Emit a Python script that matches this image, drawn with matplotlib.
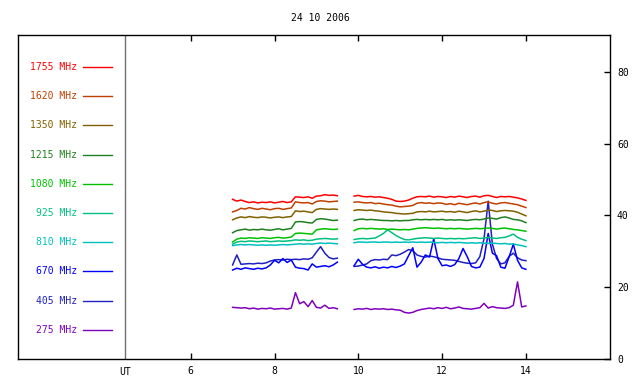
import numpy as np
import matplotlib
matplotlib.use('Agg')
import matplotlib.pyplot as plt
from matplotlib.lines import Line2D

TITLE = '24 10 2006'

# sampling times (UT hours), two observing segments
t_left = np.round(np.arange(7.0, 9.55, 0.1), 2)
t_right = np.round(np.arange(9.9, 14.05, 0.1), 2)

freqs = ['1755', '1620', '1350', '1215', '1080', '925', '810', '670', '405', '275']
colors = ['#ff0000', '#c04000', '#806000', '#208020', '#00c000',
		'#00c080', '#00c0c0', '#0000ff', '#2020c0', '#8000c0']

f1755_l = [44.5, 44.0, 44.3, 43.9, 43.6, 43.8, 43.5, 43.7, 43.6, 43.8, 43.5, 43.7, 43.9,
		43.6, 43.8, 45.2, 45.1, 45.0, 45.2, 44.8, 45.4, 45.5, 45.8, 45.6, 45.7, 45.5]
f1755_r = [45.4, 45.6, 45.3, 45.2, 45.3, 45.1, 45.2, 45.0, 44.8, 44.5, 44.0, 43.9, 44.0, 44.3,
		44.8, 45.2, 45.3, 45.2, 45.4, 45.1, 45.3, 45.2, 45.0, 45.3, 45.1, 45.4, 45.2, 45.0,
		45.3, 45.4, 45.1, 45.5, 45.6, 45.3, 45.0, 45.3, 45.2, 45.3, 45.1, 44.9, 44.6, 44.2]

f1620_l = [41.0, 41.4, 42.0, 41.8, 42.2, 41.9, 41.7, 42.0, 41.8, 41.6, 41.9, 42.0, 41.7,
		41.9, 42.1, 43.8, 43.6, 43.5, 43.6, 43.2, 43.9, 44.1, 44.0, 43.8, 43.9, 44.0]
f1620_r = [43.7, 43.8, 43.6, 43.5, 43.6, 43.3, 43.4, 43.2, 43.0, 42.9, 42.6, 42.4, 42.5, 42.6,
		42.8, 43.4, 43.6, 43.4, 43.5, 43.3, 43.5, 43.4, 43.1, 43.3, 43.0, 43.4, 43.2, 43.0,
		43.3, 43.5, 43.2, 43.6, 43.8, 43.4, 43.2, 43.5, 43.6, 43.4, 43.2, 43.0, 42.6, 42.2]

f1350_l = [38.8, 39.3, 39.6, 39.4, 39.7, 39.5, 39.4, 39.6, 39.5, 39.3, 39.5, 39.6, 39.4,
		39.6, 39.7, 41.3, 41.1, 41.2, 41.0, 40.8, 41.7, 41.9, 41.8, 41.7, 41.8, 41.7]
f1350_r = [41.4, 41.6, 41.5, 41.4, 41.5, 41.3, 41.2, 41.0, 40.9, 40.8, 40.6, 40.5, 40.4, 40.5,
		40.6, 41.0, 41.1, 41.0, 41.2, 41.0, 41.1, 41.2, 41.0, 41.1, 40.9, 41.2, 41.0, 40.8,
		41.1, 41.3, 41.0, 41.2, 41.5, 41.4, 41.1, 41.3, 41.4, 41.3, 41.2, 40.9, 40.4, 39.9]

f1215_l = [35.2, 35.8, 36.0, 36.2, 35.9, 36.1, 36.0, 36.2, 36.0, 35.9, 36.1, 36.3, 36.0,
		36.2, 36.4, 38.2, 38.3, 38.2, 38.0, 37.9, 38.9, 39.1, 39.0, 38.8, 38.6, 38.7]
f1215_r = [38.6, 38.9, 39.0, 38.8, 38.9, 38.8, 38.7, 38.6, 38.6, 38.5, 38.6, 38.5, 38.6, 38.6,
		38.8, 38.9, 38.8, 38.9, 38.8, 38.9, 38.8, 38.9, 38.7, 38.8, 38.7, 38.8, 38.7, 38.6,
		38.8, 38.9, 38.8, 39.0, 39.3, 39.2, 39.0, 39.4, 39.6, 39.3, 38.9, 38.8, 38.5, 38.0]

f1080_l = [32.6, 33.4, 33.7, 33.6, 33.8, 33.7, 33.6, 33.8, 33.7, 33.6, 33.8, 33.9, 33.7,
		33.8, 34.0, 35.0, 35.1, 35.0, 34.9, 34.8, 36.0, 36.2, 36.3, 36.2, 36.1, 36.2]
f1080_r = [35.8, 36.3, 36.4, 36.3, 36.4, 36.3, 36.2, 36.3, 36.1, 36.2, 36.1, 36.0, 36.1, 36.0,
		36.2, 36.4, 36.5, 36.6, 36.5, 36.4, 36.5, 36.4, 36.3, 36.4, 36.3, 36.4, 36.3, 36.2,
		36.3, 36.4, 36.3, 36.4, 36.5, 36.4, 36.2, 36.4, 36.5, 36.3, 36.1, 36.0, 35.8, 35.6]

f925_l = [32.0, 32.6, 32.8, 32.7, 32.9, 32.8, 32.7, 32.8, 32.9, 32.7, 32.8, 32.9, 32.8,
		32.9, 33.0, 33.2, 33.1, 33.2, 33.0, 33.1, 33.4, 33.5, 33.6, 33.5, 33.4, 33.5]
f925_r = [33.3, 33.5, 33.6, 33.5, 33.6, 33.7, 34.3, 35.0, 36.0, 35.2, 34.4, 33.8, 33.3, 33.2,
		33.4, 33.6, 33.7, 33.8, 33.7, 33.6, 33.7, 33.6, 33.5, 33.6, 33.5, 33.6, 33.5, 33.6,
		33.7, 33.8, 33.6, 33.7, 33.9, 33.7, 33.6, 33.8, 33.9, 34.3, 34.8, 33.9, 33.4, 33.0]

f810_l = [31.6, 31.8, 31.9, 31.8, 31.9, 31.8, 31.7, 31.8, 31.7, 31.8, 31.7, 31.8, 31.9,
		31.8, 31.9, 32.0, 32.1, 32.0, 32.1, 32.0, 32.2, 32.3, 32.2, 32.3, 32.2, 32.1]
f810_r = [32.4, 32.6, 32.6, 32.5, 32.6, 32.6, 32.5, 32.6, 32.6, 32.5, 32.6, 32.5, 32.6, 32.5,
		32.6, 32.5, 32.6, 32.5, 32.6, 32.5, 32.4, 32.5, 32.4, 32.5, 32.4, 32.5, 32.4, 32.3,
		32.4, 32.3, 32.4, 32.3, 32.2, 32.3, 32.2, 32.1, 32.2, 32.0, 32.1, 31.8, 31.6, 31.3]

f670_l = [24.8, 25.3, 25.0, 25.4, 25.2, 25.0, 25.3, 25.1, 25.4, 26.2, 27.5, 26.8, 28.0,
		26.9, 27.6, 25.6, 25.3, 25.2, 24.8, 26.5, 25.6, 25.8, 26.0, 25.7, 26.2, 27.0]
f670_r = [26.0, 27.8, 26.4, 25.6, 25.4, 25.7, 25.3, 25.6, 25.4, 25.8, 25.5, 25.9, 26.5, 28.8,
		31.0, 25.6, 27.0, 29.0, 28.4, 33.5, 28.0, 26.0, 26.2, 25.8, 26.3, 28.0, 30.8, 28.5,
		25.8, 25.4, 25.6, 28.0, 35.0, 29.5, 28.8, 25.6, 25.3, 28.5, 32.0, 27.5, 25.4, 25.0]

f405_l = [26.2, 29.0, 26.4, 26.5, 26.6, 26.5, 26.7, 26.6, 26.8, 27.3, 27.6, 27.7, 27.6,
		27.8, 27.7, 27.8, 27.7, 27.9, 27.8, 28.2, 29.8, 31.3, 29.5, 28.3, 27.9, 28.1]
f405_r = [25.8, 25.9, 26.2, 26.5, 27.4, 27.7, 27.6, 27.8, 27.7, 29.0, 28.8, 29.2, 29.8, 30.5,
		30.2, 29.0, 28.6, 28.4, 28.7, 28.5, 28.2, 27.8, 27.7, 27.6, 27.5, 27.2, 26.9, 26.7,
		26.6, 26.8, 28.5, 33.5, 44.0, 32.0, 28.0, 26.5, 26.8, 28.6, 29.5, 28.2, 27.6, 27.4]

f275_l = [14.4, 14.3, 14.2, 14.3, 14.0, 14.2, 13.9, 14.1, 14.0, 14.2, 13.9, 14.0, 14.1,
		13.9, 14.2, 18.5, 15.4, 16.0, 14.6, 16.3, 14.4, 14.2, 15.0, 14.1, 14.3, 14.0]
f275_r = [13.8, 14.0, 13.9, 14.1, 13.8, 14.0, 13.9, 14.0, 13.8, 13.9, 13.7, 13.6, 13.0, 12.8,
		13.0, 13.5, 13.8, 14.0, 14.2, 14.0, 14.3, 14.1, 14.4, 14.0, 14.2, 14.5, 14.1, 14.0,
		13.9, 14.1, 14.3, 15.5, 14.2, 14.6, 14.3, 14.2, 14.1, 14.3, 15.0, 21.5, 14.5, 14.8]

series = [(f1755_l, f1755_r), (f1620_l, f1620_r), (f1350_l, f1350_r), (f1215_l, f1215_r),
		(f1080_l, f1080_r), (f925_l, f925_r), (f810_l, f810_r), (f670_l, f670_r),
		(f405_l, f405_r), (f275_l, f275_r)]

W, H = 640, 384
FONT = 'DejaVu Sans Mono'
fig = plt.figure(figsize=(W/100, H/100), dpi=100)
ax = fig.add_axes([18/W, (H-359)/H, (610-18)/W, (359-35)/H])

# x axis: 6 at px 190.7, 41.9 px per hour
ax.set_xlim(1.878, 16.007)
ax.set_ylim(0, 90.3)

# draw the lower frequencies first so the top curves sit on top
for i in range(len(series) - 1, -1, -1):
	left, right = series[i]
	ax.plot(t_left, left, color=colors[i], lw=1.1)
	ax.plot(t_right, right, color=colors[i], lw=1.1)

ax.axvline(4.432, color='#707070', lw=1)

ax.set_xticks([6, 8, 10, 12, 14])
ax.set_xticklabels(['6', '8', '10', '12', '14'], fontfamily=FONT, fontsize=7)
ax.tick_params(axis='x', direction='in', top=True, bottom=True, length=4, width=1, pad=5)
ax.yaxis.tick_right()
ax.set_yticks([0, 20, 40, 60, 80])
ax.set_yticklabels(['0', '20', '40', '60', '80'], fontfamily=FONT, fontsize=7)
ax.tick_params(axis='y', direction='in', left=False, right=True, length=4, width=1, pad=5)
for s in ax.spines.values():
	s.set_linewidth(1)

fig.text(125/W, 1 - 372/H, 'UT', ha='center', va='center', fontfamily=FONT, fontsize=7)
fig.text(320/W, 1 - 18/H, TITLE, ha='center', va='center', fontfamily=FONT, fontsize=7)

# legend column on the left
for i, (f, c) in enumerate(zip(freqs, colors)):
	y = 67 + i * 29.2
	fig.text(77/W, 1 - y/H, f + ' MHz', ha='right', va='center', color=c,
		fontfamily=FONT, fontsize=7)
	fig.add_artist(Line2D([83/W, 112/W], [1 - y/H, 1 - y/H], color=c, lw=1,
		transform=fig.transFigure))

fig.savefig('out.png', dpi=100)
